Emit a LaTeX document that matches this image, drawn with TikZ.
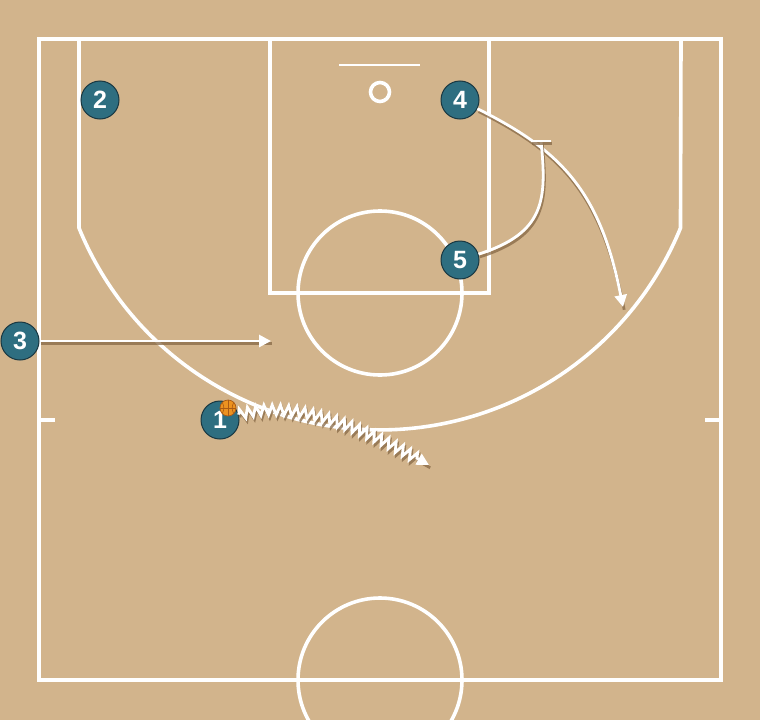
\documentclass[tikz,border=0pt]{standalone}
\usepackage{fontspec}
\setmainfont{Liberation Sans}
\usetikzlibrary{arrows.meta,decorations.pathmorphing}
\definecolor{courtbg}{RGB}{210,180,140}
\definecolor{playerfill}{RGB}{46,110,128}
\definecolor{playerdraw}{RGB}{25,55,65}
\definecolor{shadowc}{RGB}{135,105,70}
\definecolor{ballc}{RGB}{236,146,32}
\definecolor{seamc}{RGB}{170,90,20}
\begin{document}
\begin{tikzpicture}[x=1pt,y=-1pt,
  courtline/.style={draw=white,line width=3.6pt},
  player/.style={circle,fill=playerfill,draw=playerdraw,line width=1pt,minimum size=38pt,inner sep=0pt,text=white,font=\fontsize{25}{25}\selectfont\bfseries},
  move/.style={draw=white,line width=2.8pt,-{Triangle[length=12pt,width=12pt]},
    preaction={draw=shadowc,line width=2.8pt,opacity=0.75,-,transform canvas={shift={(1.2pt,-2.8pt)}}}},
  screen/.style={draw=white,line width=2.8pt,
    preaction={draw=shadowc,line width=2.8pt,opacity=0.75,transform canvas={shift={(1.2pt,-2.8pt)}}}},
  dribble/.style={decorate,decoration={zigzag,segment length=8pt,amplitude=5pt,post length=12pt}},
  ball/.style={circle,fill=ballc,draw=seamc,line width=0.7pt,minimum size=16pt,inner sep=0pt}
]
\clip (0,0) rectangle (760,720);
\fill[courtbg] (0,0) rectangle (760,720);
% court
\draw[courtline] (39,39) rectangle (721,680);
\draw[courtline] (270,39) rectangle (489,293);
\draw[courtline] (79,39) -- (79,228) arc[start angle=202.27, end angle=337.73, radius=325pt] -- (681,39);
\draw[courtline] (380,293) circle[radius=82pt];
\draw[draw=white,line width=2.4pt] (339,65) -- (420,65);
\draw[courtline] (380,92) circle[radius=9.5pt];
\draw[courtline] (39,420) -- (55,420);
\draw[courtline] (705,420) -- (721,420);
\draw[courtline] (380,680) circle[radius=82pt];
% players
\node[player] (p1) at (220,420) {1};
\node[player] (p2) at (100,100) {2};
\node[player] (p3) at (20,341) {3};
\node[player] (p4) at (460,100) {4};
\node[player] (p5) at (460,260) {5};
% free ends
\coordinate (e1) at (429,465);
\coordinate (e3) at (271,341);
\coordinate (e4) at (623,307);
\coordinate (s5) at (541,141);
% movements
\draw[move] (p3) -- (e3);
\draw[move] (p4) .. controls (560,150) and (600,190) .. (e4);
\draw[screen] (p5) .. controls (545,233) and (547,200) .. (s5);
\draw[screen] ([xshift=-10pt]s5) -- ([xshift=10pt]s5);
\draw[move,dribble] (p1) .. controls (290,400) and (350,420) .. (e1);
% ball
\node[ball] (b) at (228,408) {};
\draw[seamc,line width=0.6pt] (b.north) -- (b.south) (b.west) -- (b.east);
\draw[seamc,line width=0.6pt] (b.north west) to[bend left=30] (b.south west);
\draw[seamc,line width=0.6pt] (b.north east) to[bend right=30] (b.south east);
\end{tikzpicture}
\end{document}
